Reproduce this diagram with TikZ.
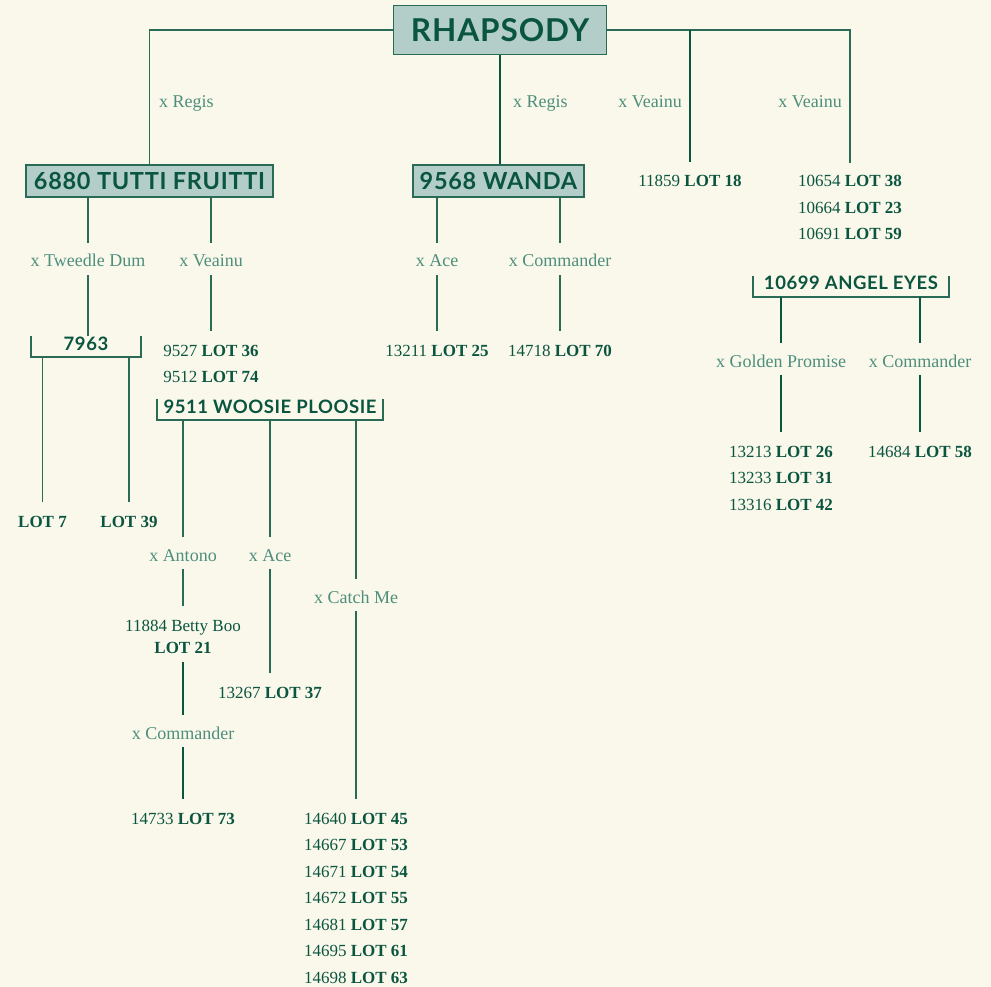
\documentclass[tikz,border=0pt]{standalone}
\usepackage{fontspec}
\setmainfont{Liberation Serif}
\newfontfamily\headfont{Lato}[LetterSpace=3]
\usetikzlibrary{positioning}

\definecolor{cream}{HTML}{FAF8EB}
\definecolor{pine}{HTML}{0A5540}
\definecolor{sage}{HTML}{4D8E7C}
\definecolor{mint}{HTML}{B3CDC8}
\definecolor{stem}{HTML}{2A6B58}

\newcommand{\lot}[2]{#1 \textbf{LOT #2}}
\newcommand{\bracketbox}[1]{\draw[link] (#1.north west) |- (#1.south east) -- (#1.north east);}

\begin{document}
\begin{tikzpicture}[
    x=1pt, y=-1pt,
    title/.style={rectangle, draw=stem, fill=mint, line width=1.2pt, text=pine, inner sep=0pt,
        font=\headfont\bfseries\fontsize{23.5}{28}\selectfont, minimum height=32pt},
    group/.style={text=pine, inner sep=0pt, text height=14pt, text depth=7pt, anchor=base,
        font=\headfont\bfseries\fontsize{18.5}{22}\selectfont},
    cross/.style={text=sage, inner sep=0pt, inner ysep=4pt, text height=20pt, text depth=4pt,
        anchor=base, font=\fontsize{18}{20}\selectfont},
    side/.style={text=sage, inner sep=0pt, font=\fontsize{18}{20}\selectfont},
    lotline/.style={text=pine, inner sep=0pt, inner ysep=4.7pt, text height=13pt, text depth=4pt,
        anchor=base, font=\fontsize{17}{20}\selectfont},
    link/.style={draw=stem, line width=1.5pt},
    trunk/.style={draw=pine, line width=2.4pt},
    tolot/.style={link, shorten >=7pt},
    trunklot/.style={trunk, shorten >=7pt}
]
\useasboundingbox (0,0) rectangle (991,987);
\fill[cream] (0,0) rectangle (991,987);

% Top of the tree
\node[title, minimum width=213pt, minimum height=49pt, font=\headfont\bfseries\fontsize{31.5}{36}\selectfont] (rhap) at (500,30) {RHAPSODY};
\node[title, minimum width=247pt] (tutti) at (149.5,181) {6880 TUTTI FRUITTI};
\node[title, minimum width=171pt] (wanda) at (498.5,181) {9568 WANDA};
\node[lotline] (l18) at (690,187) {\lot{11859}{18}};
\node[lotline] (l38) at (850,187) {\lot{10654}{38}};
\node[lotline, below=-0.3pt of l38] (l23) {\lot{10664}{23}};
\node[lotline, below=-0.3pt of l23] (l59) {\lot{10691}{59}};

\node[side, anchor=base west] (regisA) at (159,108) {x Regis};
\node[side, anchor=base west] (regisB) at (513,108) {x Regis};
\node[side, anchor=base east] (veainuA) at (682,108) {x Veainu};
\node[side, anchor=base east] (veainuB) at (842,108) {x Veainu};

\draw[link] (rhap.west) -| (tutti.north);
\draw[link] (rhap.east) -| ([yshift=6pt]l38.north);
\draw[trunk] (rhap.south) -- (rhap.south |- wanda.north);
\draw[trunklot] (rhap.east -| l18.north) -- (l18.north);

% 6880 Tutti Fruitti
\node[cross] (tweedle) at (88,267) {x Tweedle Dum};
\node[cross] (veainuC) at (211,267) {x Veainu};
\node[group, minimum width=110pt] (b7963) at (86,350) {7963};
\node[lotline] (l36) at (211,356) {\lot{9527}{36}};
\node[lotline, below=-0.3pt of l36] (l74) {\lot{9512}{74}};
\node[lotline] (l7) at (42.5,527) {\textbf{LOT 7}};
\node[lotline] (l39) at (129,527) {\textbf{LOT 39}};

\draw[link] (tutti.south -| tweedle.north) -- (tweedle);
\draw[link] (tutti.south -| veainuC.north) -- (veainuC);
\draw[link] (tweedle) -- (tweedle |- b7963.north);
\draw[tolot] (veainuC) -- (l36);
\bracketbox{b7963}
\draw[tolot] (b7963.south -| l7.north) -- (l7);
\draw[tolot] (b7963.south -| l39.north) -- (l39);

% 9511 Woosie Ploosie
\node[group, minimum width=226pt] (woosie) at (270,413) {9511 WOOSIE PLOOSIE};
\bracketbox{woosie}
\node[cross] (antono) at (183,561) {x Antono};
\node[cross] (aceA) at (270,561) {x Ace};
\node[cross] (catch) at (356,603) {x Catch Me};
\node[lotline] (betty) at (183,631) {11884 Betty Boo};
\node[lotline, below=-4.4pt of betty] (l21) {\textbf{LOT 21}};
\node[cross] (cmdA) at (183,739) {x Commander};
\node[lotline] (l73) at (183,824) {\lot{14733}{73}};
\node[lotline] (l37) at (270,698) {\lot{13267}{37}};
\node[lotline] (l45) at (356,824) {\lot{14640}{45}};
\node[lotline, below=-0.3pt of l45] (l53) {\lot{14667}{53}};
\node[lotline, below=-0.3pt of l53] (l54) {\lot{14671}{54}};
\node[lotline, below=-0.3pt of l54] (l55) {\lot{14672}{55}};
\node[lotline, below=-0.3pt of l55] (l57) {\lot{14681}{57}};
\node[lotline, below=-0.3pt of l57] (l61) {\lot{14695}{61}};
\node[lotline, below=-0.3pt of l61] (l63) {\lot{14698}{63}};

\draw[link] (woosie.south -| antono.north) -- (antono);
\draw[link] (woosie.south -| aceA.north) -- (aceA);
\draw[link] (woosie.south -| catch.north) -- (catch);
\draw[tolot] (antono) -- (betty);
\draw[trunk] (l21) -- (cmdA);
\draw[trunklot] (cmdA) -- (l73);
\draw[tolot] (aceA) -- (l37);
\draw[tolot] (catch) -- (l45);

% 9568 Wanda
\node[cross] (aceB) at (437,267) {x Ace};
\node[cross] (cmdB) at (560,267) {x Commander};
\node[lotline] (l25) at (437,356) {\lot{13211}{25}};
\node[lotline] (l70) at (560,356) {\lot{14718}{70}};

\draw[link] (wanda.south -| aceB.north) -- (aceB);
\draw[link] (wanda.south -| cmdB.north) -- (cmdB);
\draw[tolot] (aceB) -- (l25);
\draw[tolot] (cmdB) -- (l70);

% 10699 Angel Eyes
\node[group, minimum width=196pt] (angel) at (851,290) {10699 ANGEL EYES};
\bracketbox{angel}
\node[cross] (golden) at (781,367) {x Golden Promise};
\node[cross] (cmdC) at (920,367) {x Commander};
\node[lotline] (l26) at (781,457) {\lot{13213}{26}};
\node[lotline, below=-0.3pt of l26] (l31) {\lot{13233}{31}};
\node[lotline, below=-0.3pt of l31] (l42) {\lot{13316}{42}};
\node[lotline] (l58) at (920,457) {\lot{14684}{58}};

\draw[trunk] (angel.south -| golden.north) -- (golden);
\draw[trunk] (angel.south -| cmdC.north) -- (cmdC);
\draw[trunklot] (golden) -- (l26);
\draw[trunklot] (cmdC) -- (l58);

\end{tikzpicture}
\end{document}
